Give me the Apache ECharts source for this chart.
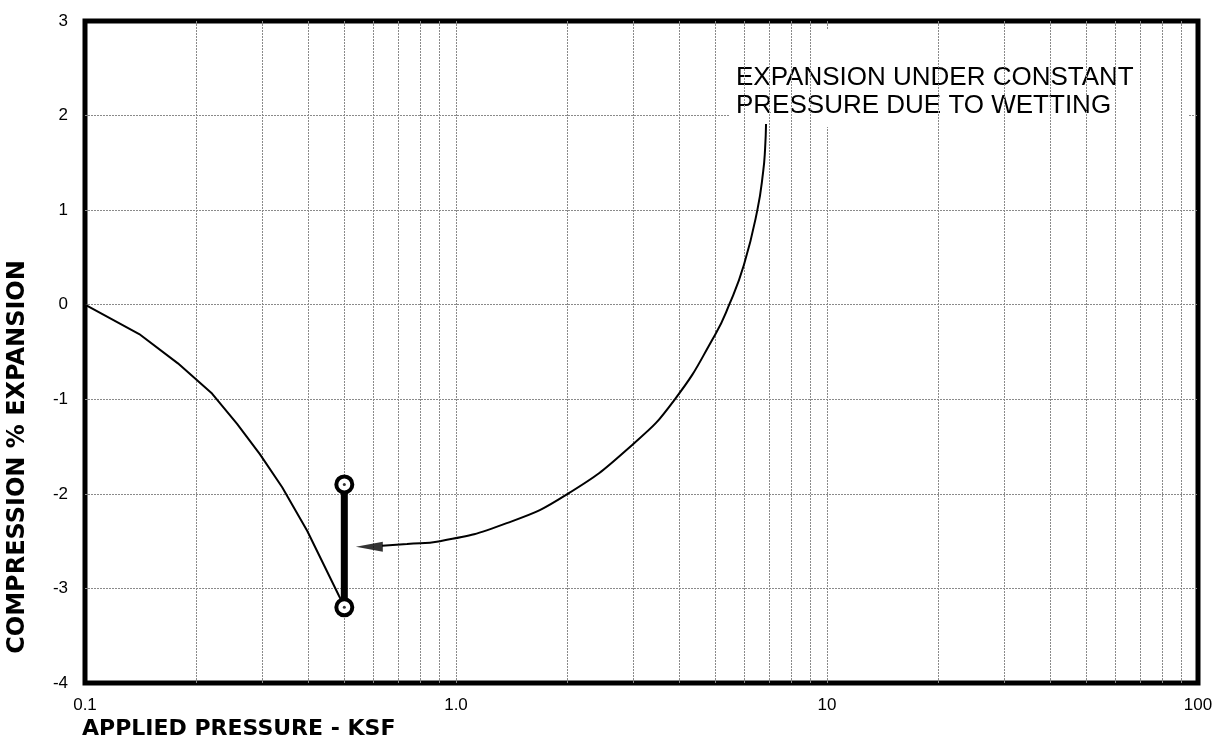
<!DOCTYPE html>
<html>
<head>
<meta charset="utf-8">
<script src="https://cdn.jsdelivr.net/npm/echarts@6/dist/echarts.min.js"></script>
<style>
html, body { margin: 0; padding: 0; background: #fff; }
#chart { width: 1223px; height: 742px; }
</style>
</head>
<body>
<div id="chart"></div>
<script>
// 压缩曲线 (pressure ksf, % strain)
var pressure = [0.1, 0.14, 0.178, 0.22, 0.257, 0.296, 0.34, 0.397, 0.484, 0.5];
var strain = [0, -0.31, -0.62, -0.94, -1.26, -1.58, -1.93, -2.39, -3.08, -3.19];

// 浸水膨胀 (constant pressure)
var wetPressure = [0.5, 0.5];
var wetStrain = [-1.9, -3.2];

// 注释箭头
var arrowX = [6.85, 6.81, 6.73, 6.49, 5.97, 5.45, 4.99, 3.89, 2.99, 2.0, 1.37, 0.905, 0.738, 0.632];
var arrowY = [1.91, 1.65, 1.41, 1.0, 0.42, 0, -0.32, -1.0, -1.48, -2.0, -2.31, -2.5, -2.53, -2.55];
var arrowHead = [0.584, -2.56];

var xTicks = [0.1, 1, 10, 100];
var xTickLabels = ['0.1', '1.0', '10', '100'];
var minorGrid = [0.2, 0.3, 0.4, 0.5, 0.6, 0.7, 0.8, 0.9,
                 2, 3, 4, 5, 6, 7, 8, 9,
                 20, 30, 40, 50, 60, 70, 80, 90];

var noteText = 'EXPANSION UNDER CONSTANT\nPRESSURE DUE TO WETTING';

function pairs(xs, ys) {
    var out = [];
    for (var i = 0; i < xs.length; i++) {
        out.push([xs[i], ys[i]]);
    }
    return out;
}

function draw_chart() {
    var myChart = echarts.init(document.getElementById('chart'));
    var gridStyle = { color: '#8a8a8a', width: 1, type: [2, 1] };

    var minorLines = [];
    for (var i = 0; i < minorGrid.length; i++) {
        minorLines.push({ xAxis: minorGrid[i] });
    }

    var option = {
        animation: false,
        grid: {
            left: 85, right: 25, top: 21, bottom: 59,
            show: true, borderColor: '#000', borderWidth: 5,
            backgroundColor: 'transparent'
        },
        xAxis: {
            type: 'log',
            logBase: 10,
            min: 0.1,
            max: 100,
            axisLine: { show: false },
            axisTick: { show: false },
            axisLabel: {
                margin: 14,
                fontFamily: 'Liberation Sans',
                fontSize: 17,
                color: '#000',
                formatter: function (v) {
                    var i = Math.round(Math.log10(v)) + 1;
                    return xTickLabels[i];
                }
            },
            splitLine: { show: true, showMinLine: false, showMaxLine: false, lineStyle: gridStyle }
        },
        yAxis: {
            type: 'value',
            min: -4,
            max: 3,
            interval: 1,
            axisLine: { show: false },
            axisTick: { show: false },
            axisLabel: {
                margin: 17,
                fontFamily: 'Liberation Sans',
                fontSize: 17,
                color: '#000'
            },
            splitLine: { show: true, showMinLine: false, showMaxLine: false, lineStyle: gridStyle }
        },
        graphic: [
            {
                type: 'rect', z: 3,
                shape: { x: 730, y: 30, width: 458, height: 97 },
                style: { fill: '#fff' }
            },
            {
                type: 'text', z: 4, x: 736, y: 64,
                style: {
                    text: noteText,
                    fill: '#000',
                    font: '26px "Liberation Sans"',
                    lineHeight: 28
                }
            },
            {
                type: 'text', z: 4, x: 82, y: 729,
                style: {
                    text: 'APPLIED PRESSURE - KSF',
                    fill: '#000',
                    font: 'bold 22px "DejaVu Sans"',
                    verticalAlign: 'middle'
                }
            },
            {
                type: 'text', z: 4, x: 18, y: 457, rotation: Math.PI / 2,
                style: {
                    text: 'COMPRESSION % EXPANSION',
                    fill: '#000',
                    font: 'bold 24px "DejaVu Sans"',
                    align: 'center',
                    verticalAlign: 'middle'
                }
            }
        ],
        series: [
            {
                name: 'minor grid',
                type: 'line',
                z: 1,
                data: [],
                markLine: {
                    silent: true,
                    symbol: ['none', 'none'],
                    label: { show: false },
                    lineStyle: gridStyle,
                    data: minorLines
                }
            },
            {
                name: 'compression',
                type: 'line',
                z: 5,
                showSymbol: false,
                lineStyle: { color: '#000', width: 2 },
                data: pairs(pressure, strain)
            },
            {
                name: 'arrow',
                type: 'line',
                z: 5,
                smooth: true,
                showSymbol: false,
                lineStyle: { color: '#000', width: 2 },
                data: pairs(arrowX, arrowY)
            },
            {
                name: 'arrow head',
                type: 'scatter',
                z: 6,
                symbol: 'triangle',
                symbolSize: [10, 27],
                symbolRotate: 90,
                itemStyle: { color: '#000' },
                data: [arrowHead]
            },
            {
                name: 'wetting',
                type: 'line',
                z: 7,
                symbol: 'circle',
                symbolSize: 16,
                showSymbol: true,
                lineStyle: { color: '#000', width: 7 },
                itemStyle: { color: '#fff', borderColor: '#000', borderWidth: 4 },
                data: pairs(wetPressure, wetStrain)
            },
            {
                name: 'wetting dot',
                type: 'scatter',
                z: 8,
                symbolSize: 3,
                itemStyle: { color: '#000' },
                data: pairs(wetPressure, wetStrain)
            }
        ]
    };
    myChart.setOption(option);
}

draw_chart();
</script>
</body>
</html>
